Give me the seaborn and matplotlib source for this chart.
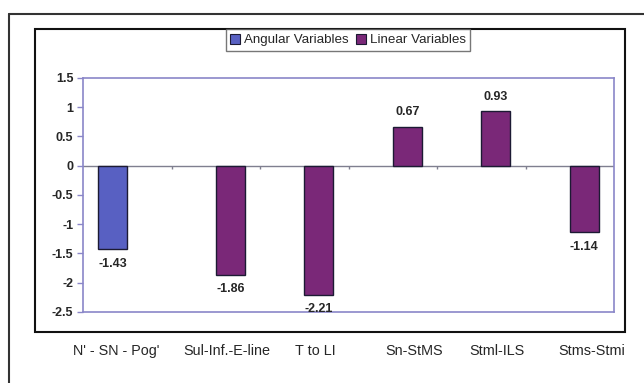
import matplotlib
matplotlib.use("Agg")
import matplotlib.pyplot as plt
import seaborn as sns
import pandas as pd
import numpy as np
from matplotlib.patches import Rectangle
from matplotlib.lines import Line2D
from matplotlib.transforms import ScaledTranslation

categories = ["N' - SN - Pog'", "Sul-Inf.-E-line", "T to LI", "Sn-StMS", "Stml-ILS", "Stms-Stmi"]
variable_type = ["Angular Variables", "Linear Variables", "Linear Variables",
                 "Linear Variables", "Linear Variables", "Linear Variables"]
values = [-1.43, -1.86, -2.21, 0.67, 0.93, -1.14]
hue_levels = ["Angular Variables", "Linear Variables"]
colors = ["#5860c2", "#7a2878"]
yticks = [1.5, 1, 0.5, 0, -0.5, -1, -1.5, -2, -2.5]
ytick_labels = ["1.5", "1", "0.5", "0", "-0.5", "-1", "-1.5", "-2", "-2.5"]

# horizontal shift (pixels) of each category label, as placed in the original scan
label_shift_px = [-11, 11, 11, 21, 16, 22]

df = pd.DataFrame({"cat": categories, "type": variable_type, "value": values})

sns.set_theme(style="white")
plt.rcParams["font.family"] = ["Liberation Sans", "DejaVu Sans"]
plt.rcParams["axes.unicode_minus"] = False

fig = plt.figure(figsize=(6.44, 3.83), dpi=100)
ax = fig.add_axes([83/644, 1-312/383, (614-83)/644, (312-78)/383])

sns.barplot(data=df, x="cat", y="value", hue="type", hue_order=hue_levels,
            order=categories, palette=colors, saturation=1, width=0.66, dodge=True,
            edgecolor="#1c1a33", linewidth=1.0, ax=ax, legend=False, zorder=3)

ax.set_ylim(-2.5, 1.5)
ax.set_xlim(-0.5, len(categories) - 0.5)
ax.set_yticks(yticks)
ax.set_yticklabels(ytick_labels, fontsize=9, fontweight="bold")
ax.set_xlabel("")
ax.set_ylabel("")
ax.tick_params(axis="y", length=4, width=1, color="#8a86c8", pad=3, direction="out", left=True)
ax.tick_params(axis="x", length=0, pad=23, labelsize=10.4)

for lab, dx in zip(ax.get_xticklabels(), label_shift_px):
    lab.set_transform(lab.get_transform() + ScaledTranslation(dx / 100, 0, fig.dpi_scale_trans))

for s in ax.spines.values():
    s.set_color("#8a86c8")
    s.set_linewidth(1.2)

ax.axhline(0, color="#7f7f8f", lw=1.0, zorder=2)
bounds = np.arange(len(categories) - 1) + 0.5
ax.vlines(bounds, -0.06, 0, color="#7f7f8f", lw=1.0, zorder=2)

for cont in ax.containers:
    ax.bar_label(cont, fmt="%.2f", padding=6, fontsize=9, fontweight="bold")

# frames
fig.patches.append(Rectangle((35/644, 1-332/383), 590/644, 303/383, transform=fig.transFigure,
                             fill=False, edgecolor="#111111", lw=1.5, zorder=1))
fig.lines.append(Line2D([9/644, 1.0], [1-14/383, 1-14/383], transform=fig.transFigure,
                        color="#333333", lw=1.5))
fig.lines.append(Line2D([9/644, 9/644], [1-14/383, 0], transform=fig.transFigure,
                        color="#333333", lw=1.5))

handles = [Rectangle((0, 0), 1, 1, facecolor=c, edgecolor="#1c1a33", lw=0.8) for c in colors]
leg = fig.legend(handles, hue_levels, loc="center", bbox_to_anchor=(348/644, 1-40/383),
                 ncol=2, fontsize=9.6, frameon=True, fancybox=False, handlelength=0.75,
                 handleheight=0.75, handletextpad=0.25, columnspacing=0.6, borderpad=0.35,
                 borderaxespad=0)
leg.get_frame().set_edgecolor("#555555")
leg.get_frame().set_linewidth(1.0)
leg.set_zorder(10)

fig.savefig("out.png", dpi=100, facecolor="white")
